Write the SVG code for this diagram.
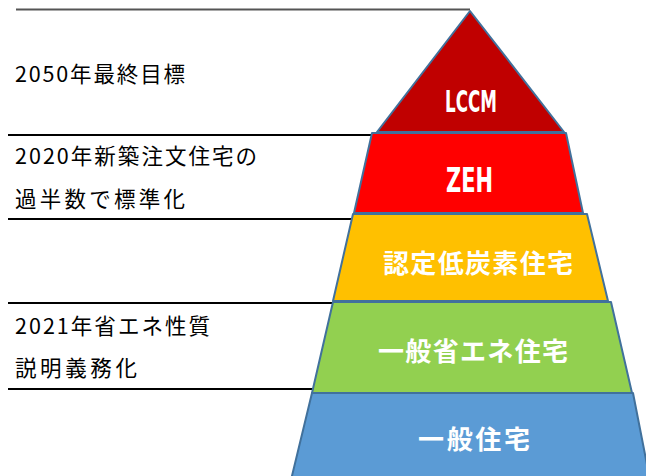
<svg xmlns="http://www.w3.org/2000/svg" width="646" height="476" viewBox="0 0 646 476">
<defs>
<style>
.tier{stroke:#41719C;stroke-width:2;stroke-linejoin:round}
.lbl{font-family:"Noto Sans CJK JP","DejaVu Sans",sans-serif;font-size:21.5px;fill:#000}
.w{font-family:"Noto Sans CJK JP","DejaVu Sans",sans-serif;font-size:26px;font-weight:bold;fill:#fff;text-anchor:start}
.c{font-family:"DejaVu Sans Condensed","Liberation Sans",sans-serif;font-weight:bold;fill:#fff}
.div{stroke:#000;stroke-width:2;fill:none}
</style>
</defs>
<rect width="646" height="476" fill="#fff"/>
<g id="connectors">
<line x1="16" y1="9.5" x2="470" y2="9.5" stroke="#555" stroke-width="2"/>
<line class="div" x1="8" y1="135" x2="372" y2="135"/>
<line class="div" x1="8" y1="219" x2="353" y2="219"/>
<line class="div" x1="8" y1="303" x2="333" y2="303"/>
<line class="div" x1="8" y1="389" x2="313" y2="389"/>
</g>
<g id="tier-general">
<polygon class="tier" points="312,393 633,393 650,480 291,480" fill="#5B9BD5"/>
<text class="w" x="418" y="449" textLength="112">一般住宅</text>
</g>
<g id="tier-energy">
<polygon class="tier" points="333,302 611,302 632,393 312,393" fill="#92D050"/>
<text class="w" x="378" y="361" textLength="190">一般省エネ住宅</text>
</g>
<g id="tier-lowcarbon">
<polygon class="tier" points="353,214 587,214 608,301 333,301" fill="#FFC000"/>
<text class="w" x="383" y="273" textLength="190">認定低炭素住宅</text>
</g>
<g id="tier-zeh">
<polygon class="tier" points="372,133 566,133 583,213 354,213" fill="#FF0000"/>
<text class="c" x="446" y="192" font-size="34" textLength="47" lengthAdjust="spacingAndGlyphs">ZEH</text>
</g>
<g id="tier-lccm">
<polygon class="tier" points="470,11 564,132 377,132" fill="#C00000"/>
<text class="c" x="445" y="112" font-size="30" textLength="52" lengthAdjust="spacingAndGlyphs">LCCM</text>
</g>
<g id="labels">
<text class="lbl" x="15" y="82" textLength="170">2050年最終目標</text>
<text class="lbl" x="15" y="164" textLength="242">2020年新築注文住宅の</text>
<text class="lbl" x="15" y="207" textLength="170">過半数で標準化</text>
<text class="lbl" x="15" y="334" textLength="195">2021年省エネ性質</text>
<text class="lbl" x="15" y="376" textLength="122">説明義務化</text>
</g>
</svg>
